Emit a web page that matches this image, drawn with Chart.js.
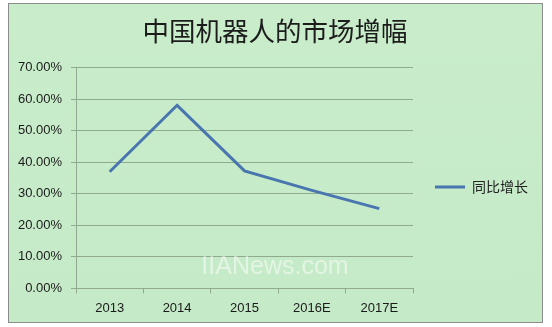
<!DOCTYPE html>
<html lang="zh">
<head>
  <meta charset="UTF-8">
  <title>中国机器人的市场增幅</title>
  <script src="https://cdn.jsdelivr.net/npm/chart.js"></script>
  <style>
    html, body { margin: 0; padding: 0; background: #fff; }
    #frame {
      position: absolute; left: 8px; top: 3px; width: 533px; height: 318px;
      border: 1.5px solid #8c8c8c;
      background: linear-gradient(#c9edca, #c5eac7);
    }
    #wrap { position: absolute; left: 0; top: 0; width: 552px; height: 327px; }
  </style>
</head>
<body>
  <div id="frame"></div>
  <div id="wrap"><canvas id="myChart" width="552" height="327"></canvas></div>

  <script>
    // data
    const years = ['2013', '2014', '2015', '2016E', '2017E'];
    const growth = [0.370, 0.581, 0.373, 0.311, 0.253];
    const seriesName = '同比增长';
    const chartTitle = '中国机器人的市场增幅';
    const watermark = 'IIANews.com';

    const cjk = "'Noto Sans CJK SC', 'Noto Sans', sans-serif";
    const latin = "'Liberation Sans', 'DejaVu Sans', sans-serif";

    // faint site mark over the plot
    const markPlugin = {
      id: 'mark',
      afterDraw(chart) {
        const ctx = chart.ctx;
        ctx.save();
        ctx.font = "25px " + latin;
        ctx.fillStyle = 'rgba(255,255,255,0.5)';
        ctx.textAlign = 'center';
        ctx.textBaseline = 'middle';
        ctx.fillText(watermark, 275, 267);
        ctx.restore();
      }
    };

    const ctx = document.getElementById('myChart').getContext('2d');
    window.myChart = new Chart(ctx, {
      type: 'line',
      data: {
        labels: years,
        datasets: [{
          label: seriesName,
          data: growth,
          borderColor: '#4a76b0',
          backgroundColor: '#4a76b0',
          borderWidth: 3,
          pointRadius: 0,
          tension: 0,
          fill: false
        }]
      },
      plugins: [markPlugin],
      options: {
        responsive: false,
        animation: false,
        layout: { padding: { left: 12, right: 14, top: 0, bottom: 4 } },
        plugins: {
          title: {
            display: true,
            text: chartTitle,
            color: '#1c1c1c',
            font: { family: cjk, size: 26.5, weight: 'normal' },
            padding: { top: 15, bottom: 21 }
          },
          legend: {
            position: 'right',
            fullSize: false,
            // empty title just pushes the entry down a bit
            title: { display: true, text: '', font: { size: 5 }, padding: 6 },
            labels: {
              usePointStyle: true,
              pointStyle: 'line',
              pointStyleWidth: 30,
              padding: 22,
              color: '#222',
              font: { family: cjk, size: 14 }
            }
          },
          tooltip: { enabled: false }
        },
        scales: {
          x: {
            offset: true,
            grid: {
              offset: true,
              drawOnChartArea: false,
              drawTicks: true,
              tickLength: 5,
              color: '#8faa8f'
            },
            border: { color: '#8faa8f' },
            ticks: {
              color: '#1a1a1a',
              padding: 7,
              font: { family: latin, size: 13 }
            }
          },
          y: {
            min: 0,
            max: 0.7,
            afterFit(scale) { scale.width = 64; },
            grid: { color: '#8faa8f', tickLength: 5 },
            border: { color: '#8faa8f' },
            ticks: {
              stepSize: 0.1,
              color: '#1a1a1a',
              padding: 9,
              font: { family: latin, size: 13 },
              callback: v => (v * 100).toFixed(2) + '%'
            }
          }
        }
      }
    });
  </script>
</body>
</html>
